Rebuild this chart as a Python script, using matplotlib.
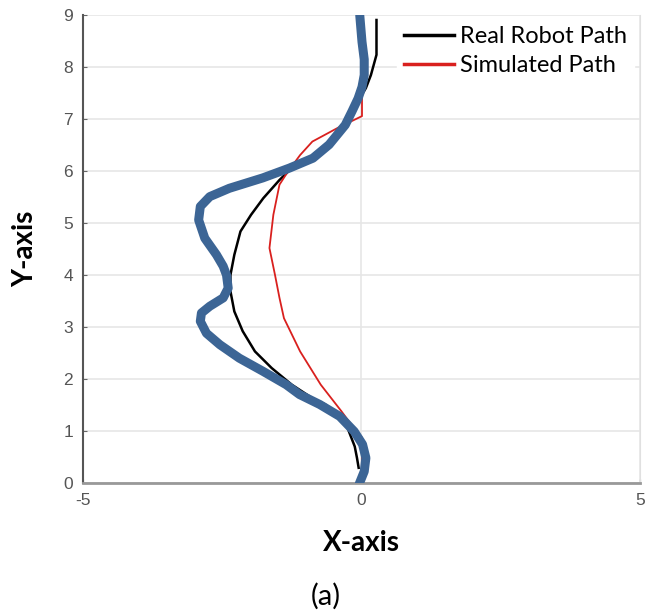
import matplotlib
matplotlib.use('Agg')
import matplotlib.pyplot as plt

plt.rcParams['axes.unicode_minus'] = False

# ---------------------------------- data ----------------------------------#
# blue (thick) path, bottom to top
blue_x = [-0.04, 0.05, 0.08, 0.02, -0.13, -0.39, -0.75, -1.11, -1.35, -1.77, -2.19, -2.54,
          -2.78, -2.89, -2.87, -2.72, -2.48, -2.39, -2.42, -2.48, -2.60, -2.81, -2.92, -2.89,
          -2.72, -2.37, -1.77, -1.29, -0.87, -0.58, -0.29, -0.17, -0.06, 0.01, 0.05, 0.05,
          0.01, -0.03]
blue_y = [-0.02, 0.22, 0.48, 0.74, 0.99, 1.28, 1.51, 1.70, 1.89, 2.15, 2.40, 2.66,
          2.88, 3.11, 3.27, 3.40, 3.56, 3.75, 4.00, 4.17, 4.39, 4.71, 5.06, 5.32,
          5.51, 5.67, 5.87, 6.06, 6.25, 6.51, 6.89, 7.15, 7.40, 7.62, 7.85, 8.15,
          8.49, 9.00]

# real robot path
real_x = [-0.05, -0.08, -0.12, -0.25, -0.43, -0.65, -0.88, -1.25, -1.61, -1.91, -2.13, -2.28,
          -2.35, -2.35, -2.28, -2.17, -1.98, -1.76, -1.47, -1.25, -0.95, -0.58, -0.29, -0.06,
          0.08, 0.17, 0.27, 0.27]
real_y = [0.29, 0.48, 0.70, 1.06, 1.31, 1.51, 1.63, 1.89, 2.21, 2.53, 2.92, 3.30,
          3.69, 4.00, 4.39, 4.84, 5.16, 5.48, 5.83, 6.06, 6.25, 6.55, 6.92, 7.35,
          7.60, 7.85, 8.24, 8.91]

# simulated path
sim_x = [0.01, 0.01, -0.14, -0.36, -0.73, -1.10, -1.39, -1.47, -1.55, -1.65, -1.58, -1.47,
         -1.32, -1.10, -0.88, -0.43, 0.01, 0.01, 0.01]
sim_y = [0.35, 0.87, 1.06, 1.38, 1.89, 2.53, 3.17, 3.56, 4.00, 4.52, 5.16, 5.74,
         5.99, 6.31, 6.57, 6.83, 7.06, 8.00, 8.80]

x_ticks = [-5, 0, 5]
y_ticks = list(range(0, 10))

# ---------------------------------- plot ----------------------------------#
tick_font = ['Liberation Sans Narrow', 'Liberation Sans', 'DejaVu Sans']
label_font = ['Lato', 'DejaVu Sans']

fig = plt.figure(figsize=(6.46, 6.12), dpi=100)
ax = fig.add_axes([0.128, 0.211, 0.863, 0.764])

ax.plot(real_x, real_y, color='black', lw=1.8, label='Real Robot Path', zorder=3)
ax.plot(sim_x, sim_y, color='#d9201e', lw=1.3, label='Simulated Path', zorder=3)
ax.plot(blue_x, blue_y, color='#3c6595', lw=6.5, solid_capstyle='round',
        solid_joinstyle='round', zorder=4)

ax.set_xlim(-5, 5)
ax.set_ylim(0, 9)
ax.set_xticks(x_ticks)
ax.set_yticks(y_ticks)
ax.grid(True, color='#e6e6e6', lw=1.2)
ax.set_axisbelow(True)

for lab in ax.get_xticklabels() + ax.get_yticklabels():
    lab.set_family(tick_font)
    lab.set_fontsize(12.5)
    lab.set_color('#555555')
ax.tick_params(direction='in', length=3, color='#666666', pad=7)

ax.spines['top'].set_visible(False)
ax.spines['right'].set_color('#e0e0e0')
ax.spines['left'].set_color('#555555')
ax.spines['left'].set_linewidth(1.5)
ax.spines['bottom'].set_color('#999999')
ax.spines['bottom'].set_linewidth(2.0)

ax.set_xlabel('X-axis', family=label_font, fontweight='bold', fontsize=20, labelpad=16)
ax.set_ylabel('Y-axis', family=label_font, fontweight='bold', fontsize=20, labelpad=18)

leg = ax.legend(loc='upper right', bbox_to_anchor=(0.995, 1.0), borderaxespad=0.15,
                prop={'family': label_font, 'size': 17}, handlelength=2.1,
                handletextpad=0.25, labelspacing=0.35, borderpad=0.3, frameon=True,
                fancybox=False, framealpha=1.0, edgecolor='white', facecolor='white')
for line in leg.get_lines():
    line.set_linewidth(2.5)

fig.text(0.505, 0.025, '(a)', family=label_font, fontsize=21, ha='center', va='center')

fig.savefig('out.png', dpi=100)
